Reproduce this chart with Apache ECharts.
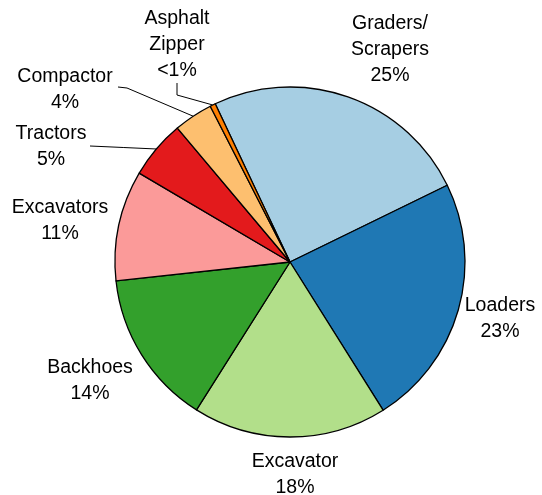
<!DOCTYPE html>
<html>
<head>
<meta charset="utf-8">
<script src="https://cdn.jsdelivr.net/npm/echarts@6/dist/echarts.min.js"></script>
<style>
html,body{margin:0;padding:0;background:#fff;}
#chart{width:542px;height:495px;}
</style>
</head>
<body>
<div id="chart"></div>
<script>
// ---- data ----
var categories = ['Graders/\nScrapers', 'Loaders', 'Excavator', 'Backhoes', 'Excavators', 'Tractors', 'Compactor', 'Asphalt\nZipper'];
var values = [24.8, 23.3, 17.9, 14.3, 10.2, 5.4, 3.6, 0.5];
var pctLabels = ['25%', '23%', '18%', '14%', '11%', '5%', '4%', '<1%'];
var colors = ['#a6cee3', '#1f78b4', '#b2df8a', '#33a02c', '#fb9a99', '#e31a1c', '#fdbf6f', '#ff7f00'];

// ---- label placement (style) ----
var labelPos = [
  {x: 390, y: 50},
  {x: 500, y: 319},
  {x: 295, y: 475},
  {x: 90, y: 381},
  {x: 60, y: 221},
  {x: 51, y: 147, line: 'right'},
  {x: 65, y: 90, line: 'rightTop'},
  {x: 177, y: 45, line: 'bottom'}
];

var chart = echarts.init(document.getElementById('chart'), null, {renderer: 'canvas'});

var seriesData = categories.map(function (c, i) {
  return {
    name: c,
    value: values[i],
    itemStyle: {color: colors[i]},
    labelLine: {show: !!labelPos[i].line}
  };
});

chart.setOption({
  animation: false,
  series: [{
    type: 'pie',
    center: [290, 262],
    radius: [0, 175],
    startAngle: 115.3,
    clockwise: true,
    avoidLabelOverlap: false,
    data: seriesData,
    itemStyle: {borderColor: '#000', borderWidth: 1.3},
    label: {
      show: true,
      position: 'outside',
      fontFamily: 'Liberation Sans, Arial, sans-serif',
      fontSize: 19.5,
      lineHeight: 26,
      color: '#000',
      align: 'center',
      formatter: function (p) { return p.name + '\n' + pctLabels[p.dataIndex]; }
    },
    labelLine: {
      show: true,
      length: 10,
      length2: 10,
      lineStyle: {color: '#000', width: 1}
    },
    labelLayout: function (params) {
      var i = params.dataIndex;
      var lp = labelPos[i];
      var res = {x: lp.x, y: lp.y, align: 'center', verticalAlign: 'middle'};
      var pts = params.labelLinePoints;
      if (lp.line && pts) {
        var p0 = pts[0];
        if (lp.line === 'right') {
          res.labelLinePoints = [p0, [(p0[0] + 90) / 2, (p0[1] + 146) / 2], [90, 146]];
        } else if (lp.line === 'rightTop') {
          res.labelLinePoints = [p0, [127, 88], [118, 87]];
        } else if (lp.line === 'bottom') {
          res.labelLinePoints = [p0, [177, 95], [177, 83]];
        }
      }
      return res;
    }
  }]
});
</script>
</body>
</html>
